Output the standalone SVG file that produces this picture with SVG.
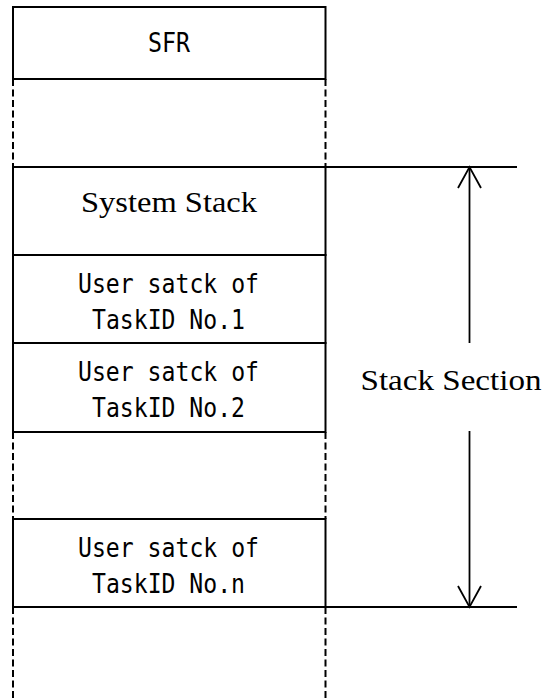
<svg xmlns="http://www.w3.org/2000/svg" width="549" height="698" viewBox="0 0 549 698">
<style>
.box{fill:#fff;stroke:#000;stroke-width:2}
.dash{stroke:#000;stroke-width:2;stroke-dasharray:7 3.5;fill:none}
.ln{stroke:#000;stroke-width:1.8;fill:none}
.mono{font-family:"DejaVu Sans Mono","Liberation Mono",monospace;font-size:26px;fill:#000}
.serif{font-family:"Liberation Serif","DejaVu Serif",serif;font-size:30px;fill:#000}
</style>
<rect width="549" height="698" fill="#fff"/>
<g id="dashed-gaps">
<line class="dash" x1="13" y1="79" x2="13" y2="167"/>
<line class="dash" x1="325.5" y1="79" x2="325.5" y2="167"/>
<line class="dash" x1="13" y1="432" x2="13" y2="519"/>
<line class="dash" x1="325.5" y1="432" x2="325.5" y2="519"/>
<line class="dash" x1="13" y1="607" x2="13" y2="698"/>
<line class="dash" x1="325.5" y1="607" x2="325.5" y2="698"/>
</g>
<g id="sfr">
<rect class="box" x="13" y="7" width="312.5" height="72"/>
<text class="mono" x="169" y="52" text-anchor="middle" textLength="42" lengthAdjust="spacingAndGlyphs">SFR</text>
</g>
<g id="system-stack">
<rect class="box" x="13" y="167" width="312.5" height="88"/>
<text class="serif" x="169" y="212" text-anchor="middle" textLength="176" lengthAdjust="spacingAndGlyphs">System Stack</text>
</g>
<g id="user-stack-1">
<rect class="box" x="13" y="255" width="312.5" height="88"/>
<text class="mono" x="168.5" y="293" text-anchor="middle" textLength="181" lengthAdjust="spacingAndGlyphs">User satck of</text>
<text class="mono" x="168.5" y="329" text-anchor="middle" textLength="153" lengthAdjust="spacingAndGlyphs">TaskID No.1</text>
</g>
<g id="user-stack-2">
<rect class="box" x="13" y="343" width="312.5" height="89"/>
<text class="mono" x="168.5" y="381" text-anchor="middle" textLength="181" lengthAdjust="spacingAndGlyphs">User satck of</text>
<text class="mono" x="168.5" y="417" text-anchor="middle" textLength="153" lengthAdjust="spacingAndGlyphs">TaskID No.2</text>
</g>
<g id="user-stack-n">
<rect class="box" x="13" y="519" width="312.5" height="88"/>
<text class="mono" x="168.5" y="557" text-anchor="middle" textLength="181" lengthAdjust="spacingAndGlyphs">User satck of</text>
<text class="mono" x="168.5" y="593" text-anchor="middle" textLength="153" lengthAdjust="spacingAndGlyphs">TaskID No.n</text>
</g>
<g id="connectors">
<line class="ln" x1="325.5" y1="167" x2="517" y2="167"/>
<line class="ln" x1="325.5" y1="607" x2="517" y2="607"/>
<line class="ln" x1="469.5" y1="167" x2="469.5" y2="343"/>
<line class="ln" x1="469.5" y1="431" x2="469.5" y2="607"/>
<polyline class="ln" points="458,188 469.5,167 481,188"/>
<polyline class="ln" points="458,586 469.5,607 481,586"/>
</g>
<g id="stack-section-label">
<text class="serif" x="451" y="390" text-anchor="middle" textLength="181" lengthAdjust="spacingAndGlyphs">Stack Section</text>
</g>
</svg>
